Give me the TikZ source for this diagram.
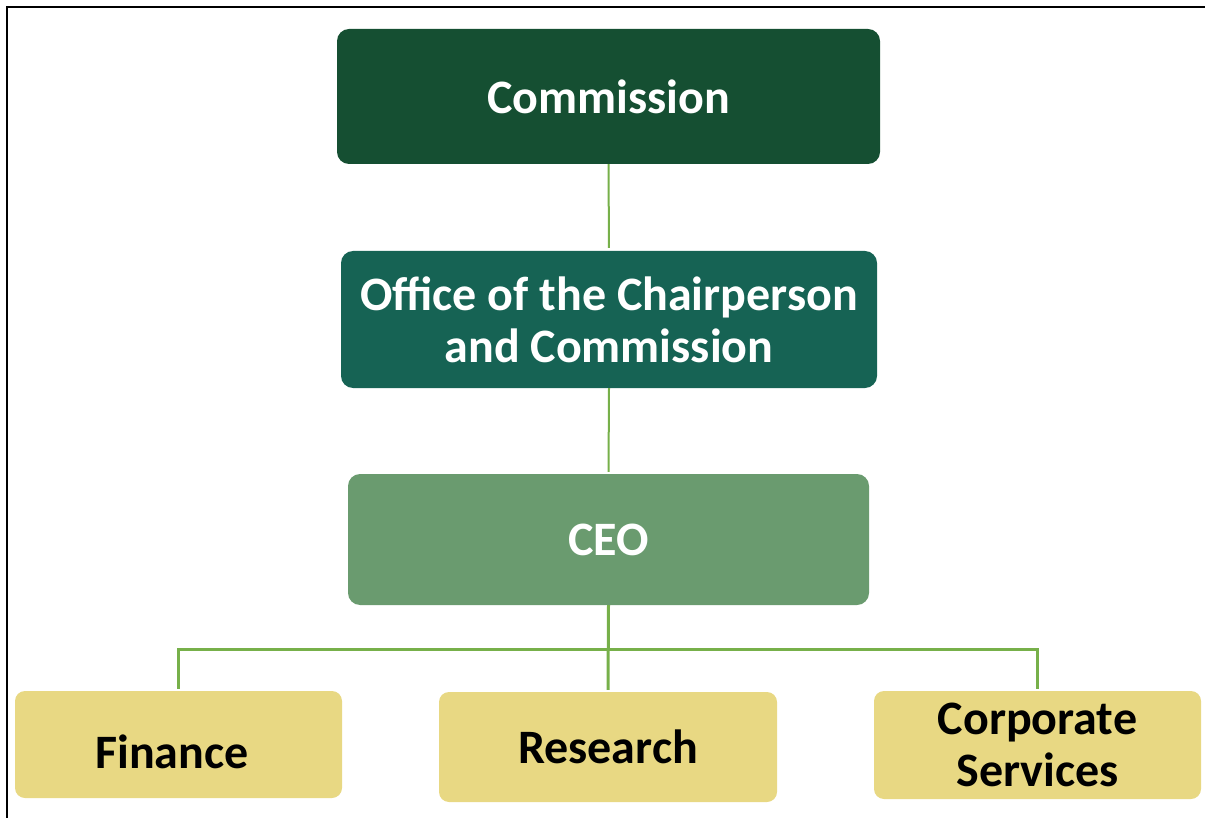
\documentclass[tikz,border=0pt]{standalone}
\usepackage{fontspec}
\setmainfont{Carlito}
\definecolor{cDark}{HTML}{154F32}
\definecolor{cTeal}{HTML}{166354}
\definecolor{cMid}{HTML}{6A9B6F}
\definecolor{cYel}{HTML}{E8D883}
\definecolor{cLine}{HTML}{77B04A}
\begin{document}
\begin{tikzpicture}[x=1pt,y=-1pt,
  box/.style={inner sep=0pt, rounded corners=12pt, align=center,
    font=\fontsize{48}{52}\selectfont\bfseries, text=white},
  ybox/.style={box, fill=cYel, text=black, rounded corners=10pt},
  lbl/.style={inner sep=0pt, font=\fontsize{48}{52}\selectfont\bfseries, text=black},
  conn/.style={draw=cLine, line width=2pt},
  connb/.style={draw=cLine, line width=3pt}]
\useasboundingbox (0,0) rectangle (1205,818);
\draw[line width=2pt] (7,818) -- (7,7) -- (1205,7);
\node[box, fill=cDark, minimum width=543pt, minimum height=135pt] (comm) at (608.5,96.5) {Commission};
\node[box, fill=cTeal, minimum width=536pt, minimum height=137pt] (office) at (609,319.5) {Office of the Chairperson\\and Commission};
\node[box, fill=cMid, minimum width=521pt, minimum height=131pt] (ceo) at (608.5,539.5) {CEO};
\node[ybox, minimum width=327pt, minimum height=107pt] (fin) at (178.5,744.5) {};
\node[lbl] (fintext) at (172,752) {Finance};
\node[ybox, minimum width=338pt, minimum height=110pt] (res) at (608,747) {Research};
\node[ybox, minimum width=327pt, minimum height=108pt] (corp) at (1037.5,745) {Corporate\\Services};
\coordinate (bus) at (608,649);
\draw[conn, shorten >=3pt] (comm.south) -- (office.north);
\draw[conn, shorten >=2pt] (office.south) -- (ceo.north);
\draw[connb, shorten >=2pt] (ceo.south) -- (res.north);
\draw[connb, shorten <=2pt, shorten >=2pt] (fin.north) |- (bus) -| (corp.north);
\end{tikzpicture}
\end{document}
